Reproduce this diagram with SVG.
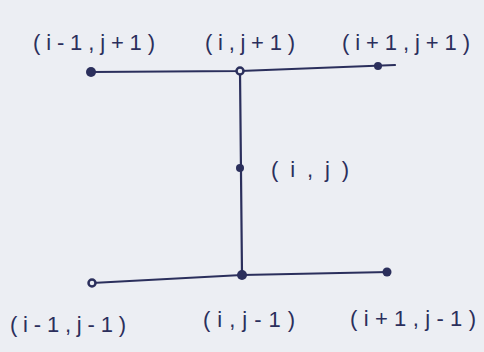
<svg xmlns="http://www.w3.org/2000/svg" width="484" height="352" viewBox="0 0 484 352">
<style>
.ln{stroke:#2b2f5c;stroke-width:2.2;fill:none;stroke-linecap:round}
.nd{fill:#2b2f5c}
.hollow{fill:#e9ecf2;stroke:#2b2f5c;stroke-width:2.5}
text{font-family:"Liberation Sans",Arial,sans-serif;font-size:22px;fill:#2b2f5c}
</style>
<rect width="484" height="352" fill="#eceef3"/>
<g id="connectors">
<path class="ln" d="M91 72 L240 71 L395 65"/>
<path class="ln" d="M240 71 L242 275"/>
<path class="ln" d="M92 283 L242 275 L389 272"/>
</g>
<g id="n-im1-jp1"><circle class="nd" cx="91" cy="72" r="5"/><text x="33" y="50" textLength="122" lengthAdjust="spacing">(i-1,j+1)</text></g>
<g id="n-i-jp1"><circle class="hollow" cx="240" cy="71" r="3.5"/><text x="205" y="50" textLength="90" lengthAdjust="spacing">(i,j+1)</text></g>
<g id="n-ip1-jp1"><circle class="nd" cx="378" cy="66" r="4"/><text x="342" y="50" textLength="128" lengthAdjust="spacing">(i+1,j+1)</text></g>
<g id="n-i-j"><circle class="nd" cx="240" cy="168" r="4"/><text x="271" y="177" textLength="78" lengthAdjust="spacing">(i,j)</text></g>
<g id="n-im1-jm1"><circle class="hollow" cx="92" cy="283" r="3.5"/><text x="10" y="332" textLength="116" lengthAdjust="spacing">(i-1,j-1)</text></g>
<g id="n-i-jm1"><circle class="nd" cx="242" cy="275" r="5"/><text x="203" y="327" textLength="92" lengthAdjust="spacing">(i,j-1)</text></g>
<g id="n-ip1-jm1"><circle class="nd" cx="387" cy="272" r="4.5"/><text x="350" y="326" textLength="126" lengthAdjust="spacing">(i+1,j-1)</text></g>
</svg>
